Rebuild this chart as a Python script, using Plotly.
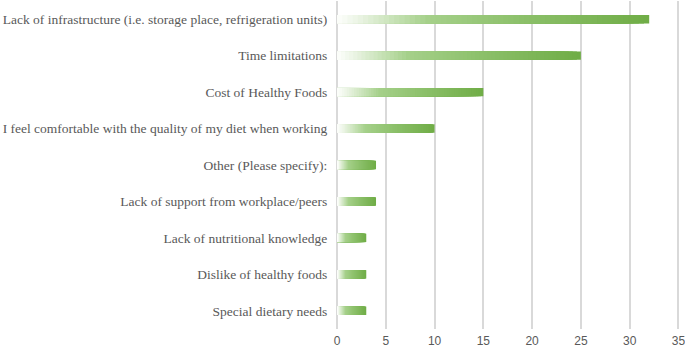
import plotly.graph_objects as go

categories = [
    "Lack of infrastructure (i.e. storage place, refrigeration units)",
    "Time limitations",
    "Cost of Healthy Foods",
    "I feel comfortable with the quality of my diet when working",
    "Other (Please specify):",
    "Lack of support from workplace/peers",
    "Lack of nutritional knowledge",
    "Dislike of healthy foods",
    "Special dietary needs",
]
values = [32, 25, 15, 10, 4, 4, 3, 3, 3]
tick_vals = [0, 5, 10, 15, 20, 25, 30, 35]

# gradient colour stops (fraction along bar -> rgb)
stops = [(0.0, (255, 255, 255)), (0.06, (240, 247, 235)), (0.3, (165, 208, 138)),
         (0.6, (140, 192, 106)), (1.0, (112, 173, 71))]


def color_at(t):
    for (t0, c0), (t1, c1) in zip(stops[:-1], stops[1:]):
        if t <= t1:
            f = (t - t0) / (t1 - t0) if t1 > t0 else 0
            return "rgb(%d,%d,%d)" % tuple(round(a + (b - a) * f) for a, b in zip(c0, c1))
    return "rgb(%d,%d,%d)" % stops[-1][1]


N = 60
fig = go.Figure()
for k in range(N, 0, -1):
    frac = k / N
    fig.add_trace(go.Bar(
        y=categories,
        x=[v * frac for v in values],
        orientation="h",
        width=0.23,
        marker=dict(color=color_at(frac), line=dict(width=0)),
        showlegend=False,
        hoverinfo="skip",
    ))

fig.update_layout(
    barmode="overlay",
    width=685,
    height=355,
    margin=dict(l=337, r=0, t=1, b=26),
    paper_bgcolor="white",
    plot_bgcolor="white",
    xaxis=dict(
        range=[0, 35.67],
        tickvals=tick_vals,
        automargin=False,
        ticklabeloverflow="allow",
        showgrid=True,
        gridcolor="#D9D9D9",
        gridwidth=1.5,
        zeroline=True,
        zerolinecolor="#D9D9D9",
        zerolinewidth=1.5,
        tickfont=dict(family="Liberation Sans, Arial, sans-serif", size=12, color="#595959"),
        ticks="outside",
        ticklen=1,
        tickcolor="rgba(0,0,0,0)",
    ),
    yaxis=dict(
        categoryorder="array",
        categoryarray=categories,
        autorange="reversed",
        automargin=False,
        showgrid=False,
        tickfont=dict(family="Liberation Serif, Times New Roman, serif", size=13.5, color="#595959"),
        ticks="outside",
        ticklen=6,
        tickcolor="rgba(0,0,0,0)",
    ),
)

fig.write_html(
    "out.html",
    config={"displayModeBar": False},
    post_script="document.body.style.margin='0';document.body.style.padding='0';document.body.style.overflow='hidden';",
)
